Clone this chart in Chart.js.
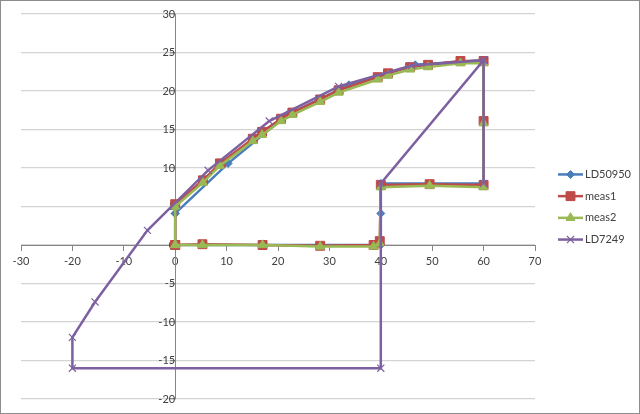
<!DOCTYPE html>
<html>
<head>
<meta charset="utf-8">
<script src="https://cdn.jsdelivr.net/npm/chart.js@4"></script>
<style>
  html, body { margin: 0; padding: 0; background: #fff; }
  #wrap { width: 640px; height: 414px; box-sizing: border-box; border: 1px solid #8c8c8c; }
</style>
</head>
<body>
<div id="wrap"><canvas id="chart" width="638" height="412"></canvas></div>
<script>
const xTicks = { min: -30, max: 70, step: 10 };
const yTicks = { min: -20, max: 30, step: 5 };

const seriesNames = ["LD50950", "meas1", "meas2", "LD7249"];

const ld50950X = [0, 10.3, 21.8, 33.8, 46.7, 60, 60, 40, 40, 40, 0, 0];
const ld50950Y = [4.1, 10.6, 16.9, 20.8, 23.4, 24, 8, 8, 4.1, 0, 0, 4.1];

const meas1X = [0, 5.3, 17, 28.2, 38.6, 39.8, 40, 49.5, 60, 60, 60, 55.5, 49.2, 45.7, 41.4, 39.4, 31.8, 28.2, 22.8, 20.6, 16.9, 15.1, 8.7, 5.4, 0, 0];
const meas1Y = [0, 0.1, 0, -0.1, 0, 0.5, 7.8, 7.9, 7.8, 16.1, 23.9, 23.9, 23.4, 23.1, 22.3, 21.8, 20.1, 18.9, 17.2, 16.4, 14.7, 13.8, 10.6, 8.4, 5.3, 0];

const meas2X = [0, 5.3, 17, 28.2, 38.6, 39.8, 40, 49.5, 60, 60, 60, 55.5, 49.2, 45.7, 41.4, 39.4, 31.8, 28.2, 22.8, 20.6, 16.9, 15.1, 8.7, 5.4, 0, 0];
const meas2Y = [0, 0, 0, -0.2, -0.2, 0.2, 7.5, 7.7, 7.5, 15.8, 23.6, 23.6, 23.1, 22.8, 22.0, 21.5, 19.8, 18.6, 16.9, 16.1, 14.3, 13.5, 10.3, 8.1, 5.0, 0];

const ld7249X = [60, 60, 40, 40, -20, -20, -15.6, -5.4, 6.4, 18.3, 31.8, 46, 60];
const ld7249Y = [8, 24, 8, -16, -16, -12, -7.4, 1.9, 9.7, 16.1, 20.6, 23.3, 24];

function pts(xs, ys) {
  return xs.map((x, i) => ({ x: x, y: ys[i] }));
}

const FONT = "Lato, 'Liberation Sans', sans-serif";
const AXIS = "#868686";
const TEXT = "#404040";

const styles = [
  { color: "#4a7ebb", point: "rectRot", radius: 4, bw: 1 },
  { color: "#be4b48", point: "rect", radius: 6.3, bw: 1 },
  { color: "#98b954", point: "triangle", radius: 5.2, bw: 1 },
  { color: "#7d60a0", point: "crossRot", radius: 5, bw: 1.2 }
];

const allData = [
  pts(ld50950X, ld50950Y),
  pts(meas1X, meas1Y),
  pts(meas2X, meas2Y),
  pts(ld7249X, ld7249Y)
];

const datasets = allData.map((d, i) => ({
  label: seriesNames[i],
  data: d,
  showLine: true,
  borderColor: styles[i].color,
  backgroundColor: styles[i].color,
  borderWidth: 2.5,
  pointStyle: styles[i].point,
  pointRadius: styles[i].radius,
  pointBorderWidth: styles[i].bw,
  pointBorderColor: styles[i].color,
  pointBackgroundColor: styles[i].color,
  tension: 0,
  order: 4 - i
}));

// legend drawn like Excel: short line with the marker in the middle
const excelLegend = {
  id: "excelLegend",
  afterDraw(chart) {
    const ctx = chart.ctx;
    const gap = 21.7;
    const y0 = chart.height / 2 - gap * 1.5;
    const x1 = 557, x2 = 582;
    ctx.save();
    datasets.forEach((ds, i) => {
      const y = y0 + i * gap;
      ctx.strokeStyle = ds.borderColor;
      ctx.lineWidth = 2.5;
      ctx.beginPath();
      ctx.moveTo(x1, y);
      ctx.lineTo(x2, y);
      ctx.stroke();
      ctx.fillStyle = ds.backgroundColor;
      ctx.strokeStyle = ds.borderColor;
      ctx.lineWidth = ds.pointBorderWidth;
      Chart.helpers.drawPoint(ctx, { pointStyle: ds.pointStyle, radius: ds.pointRadius, borderWidth: ds.pointBorderWidth, rotation: 0 }, (x1 + x2) / 2, y);
      ctx.fillStyle = TEXT;
      ctx.font = "11px " + FONT;
      ctx.textBaseline = "middle";
      ctx.textAlign = "left";
      ctx.fillText(ds.label, x2 + 2, y);
    });
    ctx.restore();
  }
};

new Chart(document.getElementById("chart"), {
  type: "scatter",
  data: { datasets: datasets },
  options: {
    responsive: false,
    animation: false,
    layout: { padding: { left: 20, top: 13, right: 104, bottom: 14 } },
    plugins: {
      legend: { display: false },
      tooltip: { enabled: false }
    },
    scales: {
      x: {
        type: "linear",
        position: { y: 0 },
        min: xTicks.min,
        max: xTicks.max,
        ticks: { stepSize: xTicks.step, color: TEXT, font: { family: FONT, size: 11 }, padding: 5, maxRotation: 0 },
        grid: { drawOnChartArea: false, drawTicks: true, tickLength: 5, color: AXIS },
        border: { color: AXIS, width: 1 }
      },
      y: {
        type: "linear",
        position: { x: 0 },
        min: yTicks.min,
        max: yTicks.max,
        ticks: { stepSize: yTicks.step, color: TEXT, font: { family: FONT, size: 11 }, padding: 3 },
        grid: { color: "#d4d4d4", lineWidth: 1.3, tickLength: 5, tickColor: AXIS },
        border: { color: AXIS, width: 1 }
      }
    }
  },
  plugins: [excelLegend]
});
</script>
</body>
</html>
